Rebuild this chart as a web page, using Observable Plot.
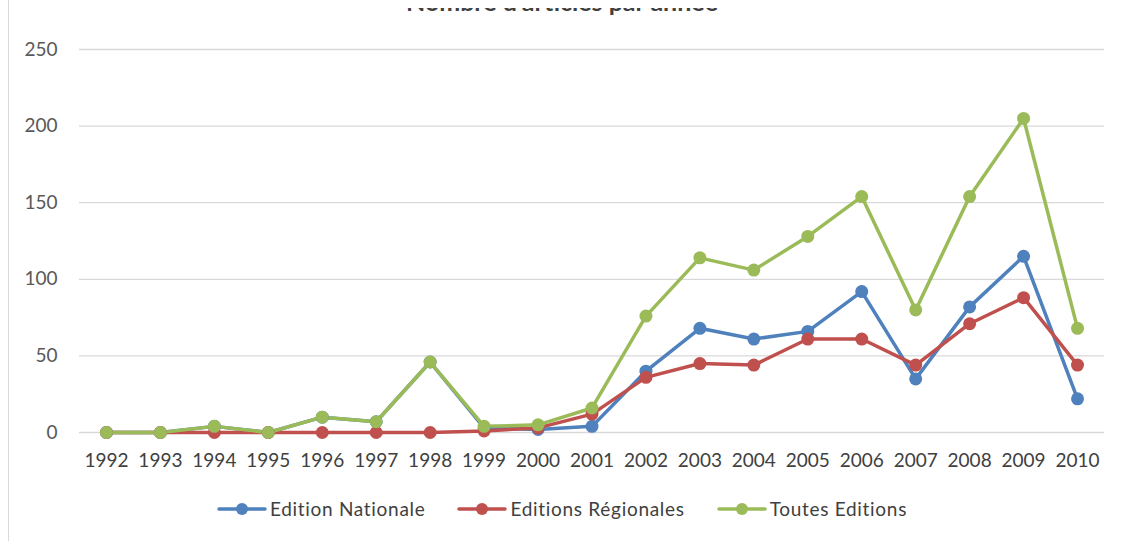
<!DOCTYPE html>
<html>
<head>
<meta charset="utf-8">
<script src="https://cdn.jsdelivr.net/npm/d3@7"></script>
<script src="https://cdn.jsdelivr.net/npm/@observablehq/plot@0.6"></script>
<style>
  html, body { margin: 0; padding: 0; background: #fff; overflow: hidden; }
  #wrap { position: relative; width: 1124px; height: 541px; font-family: Lato, "Open Sans", sans-serif; }
  #titleclip { position: absolute; left: 0; top: 8px; width: 1124px; height: 10px; overflow: hidden; }
  #title { position: absolute; left: 0; width: 1124px; top: -22px; text-align: center; font-size: 25px; font-weight: bold; color: #404040; line-height: 30px; }
  #border { position: absolute; left: 8px; top: 0; width: 1px; height: 541px; background: #d9d9d9; }
  #chart { position: absolute; left: 0; top: 0; }
  #legend { position: absolute; top: 497px; left: 0; width: 1124px; display: flex; justify-content: center; gap: 32px; font-size: 19px; letter-spacing: 0.7px; color: #404040; }
  .item { display: flex; align-items: center; }
  .item svg { margin-right: 3px; }
</style>
</head>
<body>
<div id="wrap">
  <div id="chart"></div>
  <div id="border"></div>
  <div id="titleclip"><div id="title">Nombre d'articles par année</div></div>
  <div id="legend"></div>
</div>
<script>
const years = ["1992","1993","1994","1995","1996","1997","1998","1999","2000","2001","2002","2003","2004","2005","2006","2007","2008","2009","2010"];
const nationale = [0, 0, 4, 0, 10, 7, 46, 3, 2, 4, 40, 68, 61, 66, 92, 35, 82, 115, 22];
const regionales = [0, 0, 0, 0, 0, 0, 0, 1, 3, 12, 36, 45, 44, 61, 61, 44, 71, 88, 44];
const toutes = [0, 0, 4, 0, 10, 7, 46, 4, 5, 16, 76, 114, 106, 128, 154, 80, 154, 205, 68];
const seriesNames = ["Edition Nationale", "Editions Régionales", "Toutes Editions"];
const seriesColors = ["#4f81bd", "#c0504d", "#9bbb59"];
const yTicks = [0, 50, 100, 150, 200, 250];

const data = [];
[nationale, regionales, toutes].forEach((vals, i) => {
  vals.forEach((v, j) => data.push({year: years[j], value: v, series: seriesNames[i]}));
});

const chart = Plot.plot({
  width: 1124,
  height: 480,
  marginTop: 49,
  marginBottom: 48,
  marginLeft: 79,
  marginRight: 20,
  style: {fontFamily: "Lato, 'Open Sans', sans-serif", fontSize: "19px", color: "#595959", background: "transparent"},
  x: {type: "point", domain: years, padding: 0.5, round: false, label: null},
  y: {domain: [0, 250], ticks: yTicks, label: null},
  color: {domain: seriesNames, range: seriesColors},
  marks: [
    Plot.gridY(yTicks, {stroke: "#d9d9d9", strokeOpacity: 1, strokeWidth: 1.3}),
    Plot.axisY(yTicks, {tickSize: 0, tickPadding: 22, fontSize: 19, fill: "#595959"}),
    Plot.axisX({tickSize: 0, tickPadding: 21, fontSize: 19, fill: "#404040"}),
    Plot.line(data, {x: "year", y: "value", z: "series", stroke: "series", strokeWidth: 3.5, strokeLinejoin: "round", strokeLinecap: "round"}),
    Plot.dot(data, {x: "year", y: "value", fill: "series", r: 6.5, stroke: null})
  ]
});
document.getElementById("chart").appendChild(chart);

const legend = document.getElementById("legend");
seriesNames.forEach((name, i) => {
  const item = document.createElement("div");
  item.className = "item";
  item.innerHTML = `<svg width="50" height="20"><line x1="2" x2="48" y1="10" y2="10" stroke="${seriesColors[i]}" stroke-width="3.5" stroke-linecap="round"/><circle cx="25" cy="10" r="6" fill="${seriesColors[i]}"/></svg><span>${name}</span>`;
  legend.appendChild(item);
});
</script>
</body>
</html>
